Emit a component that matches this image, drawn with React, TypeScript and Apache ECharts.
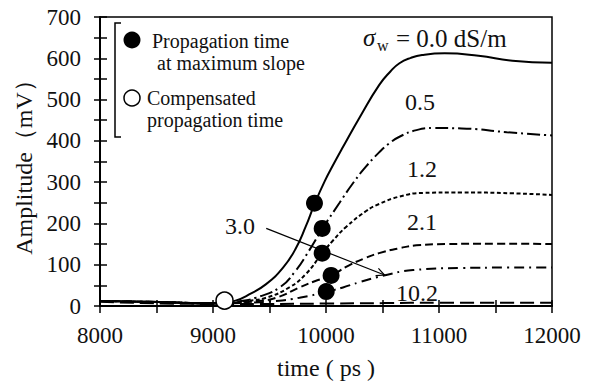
import { useEffect, useRef } from "react";
import * as echarts from "echarts";

// Received waveform amplitude (mV) versus time (ps) for each soil water conductivity σw
const curve00: [number, number][] = [
  [8000, 12], [8300, 11], [8600, 9], [8900, 7], [9100, 8], [9200, 13], [9320, 28], [9470, 53],
  [9620, 93], [9730, 138], [9820, 192], [9900, 248], [9990, 303], [10070, 345], [10150, 385],
  [10300, 458], [10470, 535], [10570, 568], [10650, 588], [10750, 601], [10850, 608],
  [11050, 612], [11350, 606], [11650, 594], [12000, 589],
];
const curve05: [number, number][] = [
  [8000, 12], [8600, 9], [9000, 6], [9100, 8], [9250, 12], [9380, 20], [9590, 45], [9730, 85],
  [9850, 134], [9970, 188], [10120, 250], [10240, 298], [10355, 338], [10470, 372], [10560, 394],
  [10650, 410], [10800, 426], [10950, 431], [11200, 430], [11600, 421], [12000, 413],
];
const curve12: [number, number][] = [
  [8000, 12], [8600, 9], [9000, 6], [9150, 8], [9300, 12], [9470, 20], [9675, 45], [9820, 77],
  [9965, 127], [10060, 158], [10180, 192], [10355, 230], [10470, 247], [10650, 265],
  [10860, 274], [11200, 275], [11650, 273], [12000, 269],
];
const curve21: [number, number][] = [
  [8000, 12], [8600, 9], [9000, 6], [9200, 8], [9400, 12], [9560, 20], [9765, 45], [9900, 60],
  [10045, 74], [10200, 98], [10355, 117], [10470, 128], [10650, 140], [10800, 147],
  [11060, 150], [11500, 151], [12000, 150],
];
const curve30: [number, number][] = [
  [8000, 12], [8600, 9], [9000, 6], [9300, 8], [9550, 12], [9765, 20], [10000, 34], [10150, 45],
  [10300, 58], [10500, 73], [10770, 87], [11200, 92], [11600, 93], [12000, 93],
];
const curve102: [number, number][] = [
  [8000, 10], [9000, 5], [9500, 5], [10000, 6], [10500, 7], [11000, 8], [12000, 8],
];

// Propagation time at maximum slope (filled) and compensated propagation time (open)
const maxSlopePoints: [number, number][] = [
  [9898, 249], [9966, 188], [9966, 128], [10045, 74], [10002, 35],
];
const compensatedPoints: [number, number][] = [[9102, 13]];

// Arrow running from the "3.0" label down to its curve
const arrowFrom: [number, number] = [9471, 188];
const arrowTo: [number, number] = [10518, 75];

const curveLabels = ["0.5", "1.2", "2.1", "10.2", "3.0"];
const sigmaLabel = "= 0.0 dS/m";
const legendLines = ["Propagation time", "at maximum slope", "Compensated", "propagation time"];

const SERIF = "Liberation Serif";
const INK = "#111";

function curveSeries(name: string, data: [number, number][], dash: any) {
  return {
    type: "line",
    name,
    data,
    xAxisIndex: 0,
    yAxisIndex: 0,
    symbol: "none",
    showSymbol: false,
    smooth: 0.5,
    lineStyle: { color: "#000", width: 2, type: dash },
    z: 2,
  };
}

function txt(text: string, x: number, y: number, size: number, align = "left", extra: any = {}) {
  return {
    type: "text",
    silent: true,
    z: 10,
    style: {
      text,
      x,
      y,
      fill: INK,
      fontFamily: SERIF,
      fontSize: size,
      textAlign: align,
      align,
      textVerticalAlign: "middle",
      verticalAlign: "middle",
      ...extra,
    },
  };
}

export default function App() {
  const ref = useRef<HTMLDivElement>(null);

  useEffect(() => {
    if (!ref.current) return;
    const chart = echarts.init(ref.current, undefined, { renderer: "svg" });
    const grid = { left: 100, right: 39, top: 17, bottom: 79 };

    const axisText = { color: INK, fontFamily: SERIF, fontSize: 23 };

    const option: any = {
      animation: false,
      backgroundColor: "#fff",
      grid: [
        { ...grid, show: true, borderColor: "#000", borderWidth: 1.5 },
        { ...grid, show: false },
      ],
      xAxis: [
        {
          type: "value",
          gridIndex: 0,
          min: 8000,
          max: 12000,
          interval: 500,
          name: "time ( ps )",
          nameLocation: "middle",
          nameGap: 50,
          nameTextStyle: { color: INK, fontFamily: SERIF, fontSize: 24 },
          axisLine: { show: true, onZero: false, lineStyle: { color: "#000", width: 2 } },
          axisTick: { show: true, inside: false, length: 7, lineStyle: { color: "#000", width: 1.5 } },
          axisLabel: {
            ...axisText,
            margin: 18,
            showMinLabel: true,
            showMaxLabel: true,
            formatter: (v: number) => (v % 1000 === 0 ? String(v) : ""),
          },
          splitLine: { show: false },
        },
        {
          type: "value",
          gridIndex: 1,
          min: 8000,
          max: 12000,
          interval: 500,
          axisLine: { show: false },
          axisTick: { show: true, inside: true, length: 6, lineStyle: { color: "#000", width: 1.5 } },
          axisLabel: { show: false },
          splitLine: { show: false },
        },
      ],
      yAxis: [
        {
          type: "value",
          gridIndex: 0,
          min: 0,
          max: 700,
          interval: 50,
          name: "Amplitude（mV）",
          nameLocation: "middle",
          nameGap: 62,
          nameRotate: 90,
          nameTextStyle: { color: INK, fontFamily: SERIF, fontSize: 24 },
          axisLine: { show: true, onZero: false, lineStyle: { color: "#000", width: 2 } },
          axisTick: { show: true, inside: false, length: 6, lineStyle: { color: "#000", width: 1.5 } },
          axisLabel: {
            ...axisText,
            margin: 19,
            showMinLabel: true,
            showMaxLabel: true,
            formatter: (v: number) => (v % 100 === 0 ? String(v) : ""),
          },
          splitLine: { show: false },
        },
        {
          type: "value",
          gridIndex: 1,
          min: 0,
          max: 700,
          interval: 50,
          axisLine: { show: false },
          axisTick: { show: true, inside: true, length: 7, lineStyle: { color: "#000", width: 1.5 } },
          axisLabel: { show: false },
          splitLine: { show: false },
        },
      ],
      series: [
        curveSeries("0.0", curve00, "solid"),
        curveSeries("0.5", curve05, [13, 4, 2, 4]),
        curveSeries("1.2", curve12, [4, 2.5]),
        curveSeries("2.1", curve21, [8, 4]),
        curveSeries("3.0", curve30, [10, 5, 2, 5]),
        curveSeries("10.2", curve102, [14, 6]),
        {
          type: "scatter",
          name: "Propagation time at maximum slope",
          data: maxSlopePoints,
          symbol: "circle",
          symbolSize: 17,
          itemStyle: { color: "#000", opacity: 1 },
          z: 5,
        },
        {
          type: "scatter",
          name: "Compensated propagation time",
          data: compensatedPoints,
          symbol: "circle",
          symbolSize: 17,
          itemStyle: { color: "#fff", borderColor: "#000", borderWidth: 1.5, opacity: 1 },
          z: 6,
        },
      ],
    };
    chart.setOption(option);

    // Arrow for the 3.0 label, placed through the data scale
    const p0 = chart.convertToPixel({ gridIndex: 0 }, arrowFrom) as number[];
    const p1 = chart.convertToPixel({ gridIndex: 0 }, arrowTo) as number[];
    const ang = Math.atan2(p1[1] - p0[1], p1[0] - p0[0]);
    const head = 9;
    const spread = 0.45;
    const h1 = [p1[0] - head * Math.cos(ang - spread), p1[1] - head * Math.sin(ang - spread)];
    const h2 = [p1[0] - head * Math.cos(ang + spread), p1[1] - head * Math.sin(ang + spread)];

    const graphic: any[] = [
      // bracket grouping the marker key
      {
        type: "polyline",
        silent: true,
        z: 10,
        shape: { points: [[121, 23], [115, 23], [115, 137], [121, 137]] },
        style: { stroke: "#000", lineWidth: 1.5, fill: "none" },
      },
      {
        type: "circle",
        silent: true,
        z: 10,
        shape: { cx: 132, cy: 40, r: 8.5 },
        style: { fill: "#000" },
      },
      {
        type: "circle",
        silent: true,
        z: 10,
        shape: { cx: 132, cy: 98, r: 8 },
        style: { fill: "#fff", stroke: "#000", lineWidth: 1.5 },
      },
      txt(legendLines[0], 152, 41, 20),
      txt(legendLines[1], 157, 63, 20),
      txt(legendLines[2], 147, 98, 20),
      txt(legendLines[3], 147, 120, 20),
      // σw = 0.0 dS/m
      txt("σ", 363, 37, 25, "left", { fontStyle: "italic" }),
      txt("w", 377, 45, 16),
      txt(sigmaLabel, 396, 38, 25),
      // curve labels
      txt(curveLabels[0], 420, 102, 24, "center"),
      txt(curveLabels[1], 422, 169, 24, "center"),
      txt(curveLabels[2], 422, 222, 24, "center"),
      txt(curveLabels[3], 417, 293, 24, "center"),
      txt(curveLabels[4], 240, 226, 24, "center"),
      {
        type: "line",
        silent: true,
        z: 10,
        shape: { x1: p0[0], y1: p0[1], x2: p1[0], y2: p1[1] },
        style: { stroke: "#000", lineWidth: 1.2 },
      },
      {
        type: "polyline",
        silent: true,
        z: 10,
        shape: { points: [h1, p1, h2] },
        style: { stroke: "#000", lineWidth: 1.2, fill: "none" },
      },
    ];
    chart.setOption({ graphic });

    return () => chart.dispose();
  }, []);

  return (
    <div
      ref={ref}
      style={{ position: "fixed", left: 0, top: 0, width: 591, height: 385, background: "#fff" }}
    />
  );
}
